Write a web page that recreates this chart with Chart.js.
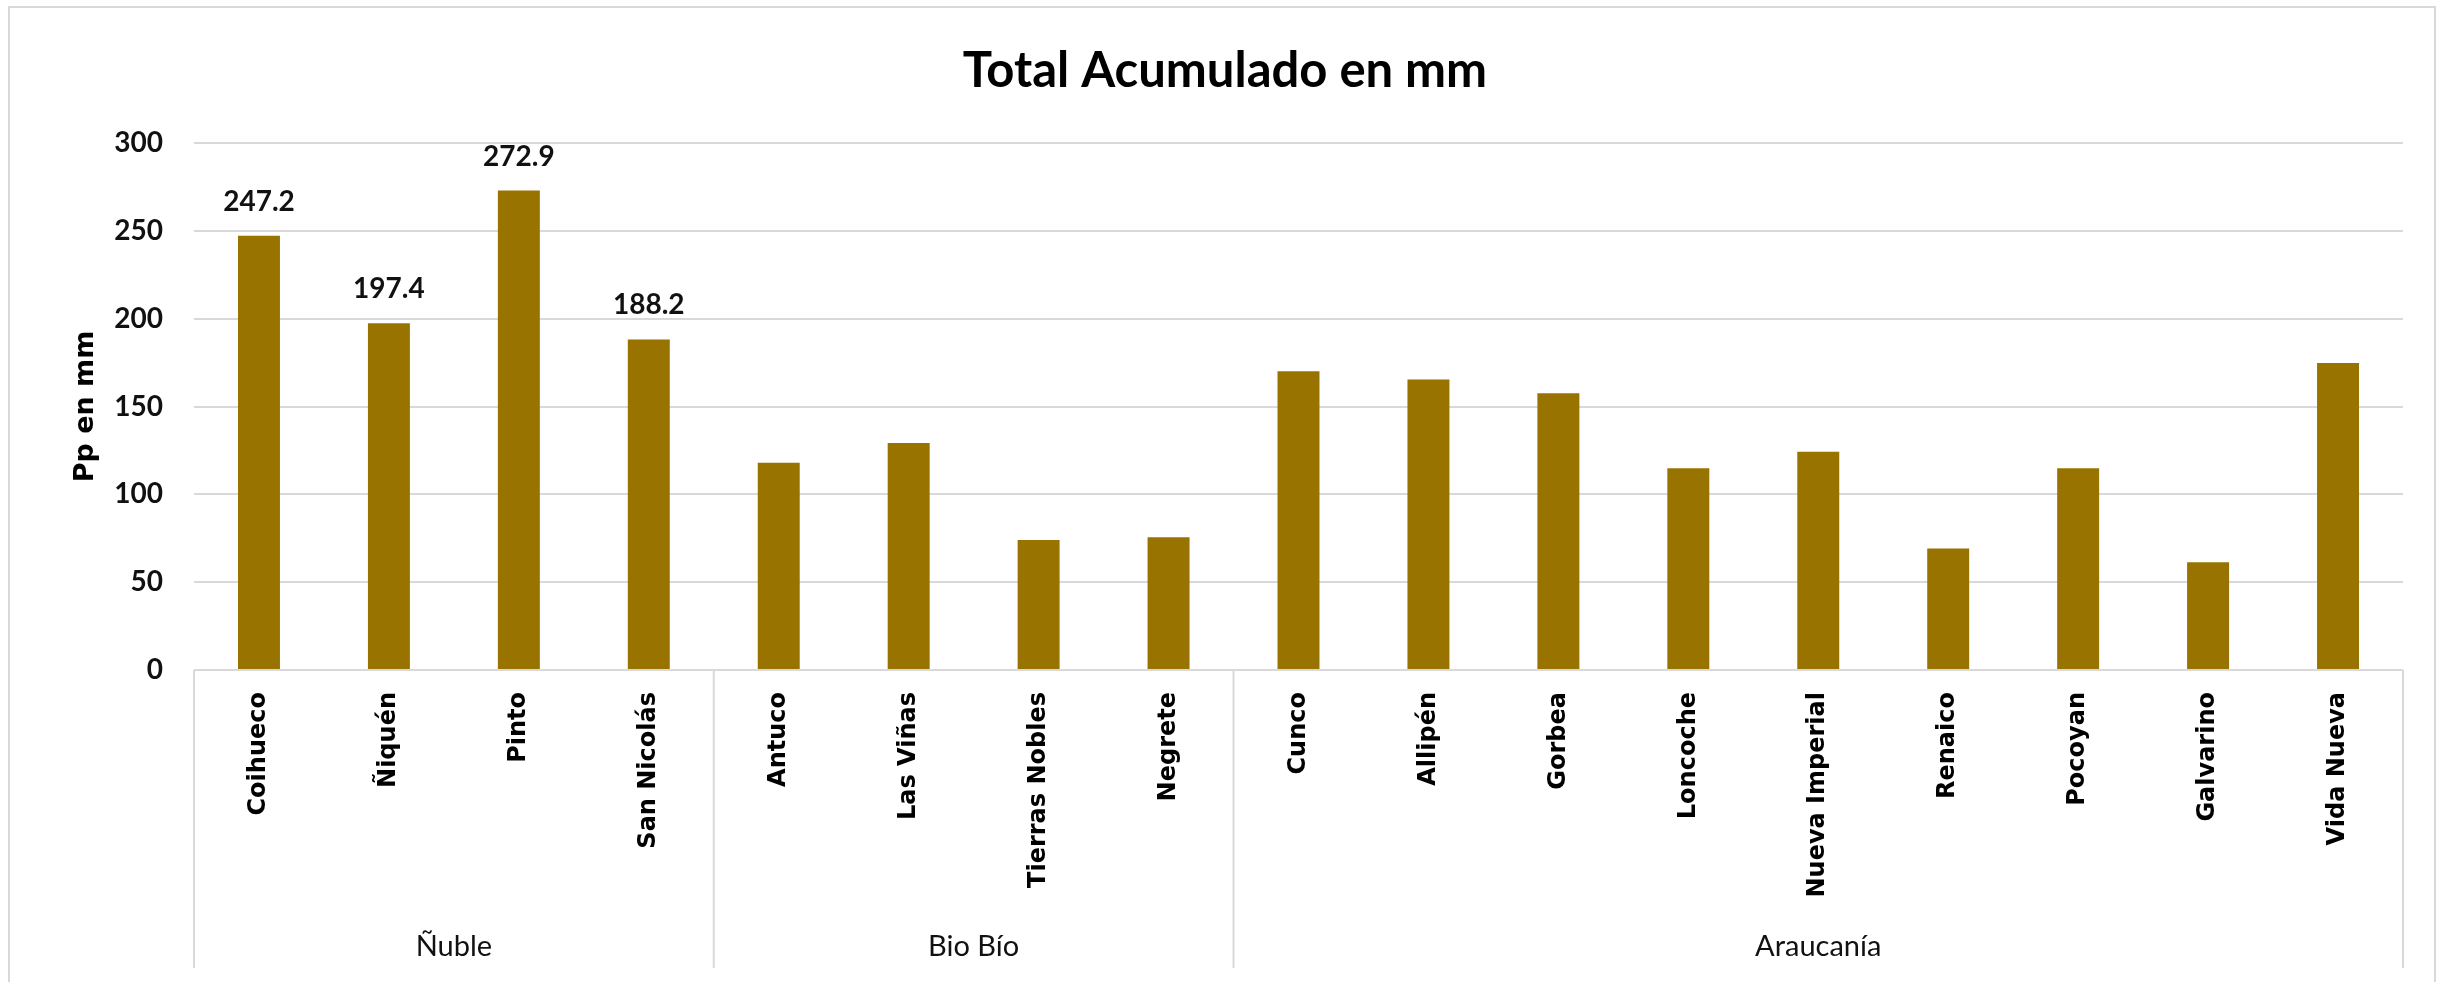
<!DOCTYPE html>
<html>
<head>
<meta charset="utf-8">
<script src="https://cdn.jsdelivr.net/npm/chart.js@4/dist/chart.umd.min.js"></script>
<style>
  html,body{margin:0;padding:0;background:#fff;}
  #wrap{width:2440px;height:982px;position:relative;}
</style>
</head>
<body>
<div id="wrap"><canvas id="pp-chart"></canvas></div>
<script>
// categorías (estaciones) y total acumulado en mm
const estaciones=['Coihueco','Ñiquén','Pinto','San Nicolás','Antuco','Las Viñas','Tierras Nobles','Negrete',
  'Cunco','Allipén','Gorbea','Loncoche','Nueva Imperial','Renaico','Pocoyan','Galvarino','Vida Nueva'];
const totalMm=[247.2,197.4,272.9,188.2,118.0,129.2,74.0,75.5,170.1,165.3,157.6,114.9,124.3,69.2,114.9,61.3,174.7];
// solo estas barras llevan etiqueta de dato
const conEtiqueta=['Coihueco','Ñiquén','Pinto','San Nicolás'];
// regiones y cuántas estaciones tiene cada una
const regiones=['Ñuble','Bio Bío','Araucanía'];
const nPorRegion=[4,4,9];
// eje Y
const yMin=0, yMax=300, yPaso=50;

const COLOR_BAR='#997300';
const GRIS='#d9d9d9';

// borde exterior + fondo
const marco={
  id:'marco',
  beforeDraw(c){
    const x=c.ctx;
    x.save();
    x.fillStyle='#fff'; x.fillRect(0,0,c.width,c.height);
    x.strokeStyle=GRIS; x.lineWidth=2;
    x.strokeRect(9,7,2426,1000);
    x.restore();
  }
};

// etiquetas de datos + separadores y nombres de región
const extras={
  id:'extras',
  afterDatasetsDraw(c){
    const x=c.ctx, sx=c.scales.x, sy=c.scales.y;
    x.save();
    x.fillStyle='#111'; x.font='bold 28px Lato'; x.textAlign='center'; x.textBaseline='alphabetic';
    estaciones.forEach((e,i)=>{
      if(!conEtiqueta.includes(e)) return;
      x.fillText(totalMm[i].toFixed(1),sx.getPixelForValue(i),sy.getPixelForValue(totalMm[i])-25);
    });
    const half=(sx.getPixelForValue(1)-sx.getPixelForValue(0))/2;
    const y0=c.chartArea.bottom, y1=968;
    x.strokeStyle=GRIS; x.lineWidth=2;
    let k=0;
    const bordes=[sx.getPixelForValue(0)-half];
    nPorRegion.forEach(n=>{ k+=n; bordes.push(sx.getPixelForValue(k-1)+half); });
    bordes.forEach(b=>{ x.beginPath(); x.moveTo(b,y0); x.lineTo(b,y1); x.stroke(); });
    x.fillStyle='#111'; x.font='29px Lato'; x.textBaseline='middle';
    regiones.forEach((r,i)=>{ x.fillText(r,(bordes[i]+bordes[i+1])/2,947); });
    x.restore();
  }
};

function build(){
  new Chart(document.getElementById('pp-chart'),{
    type:'bar',
    data:{labels:estaciones,datasets:[{
      data:totalMm, backgroundColor:COLOR_BAR, borderWidth:0,
      categoryPercentage:1, barPercentage:0.323
    }]},
    options:{
      responsive:true, maintainAspectRatio:false, animation:false,
      layout:{padding:{top:0,right:37,bottom:0,left:47}},
      plugins:{
        legend:{display:false}, tooltip:{enabled:false},
        title:{display:true,text:'Total Acumulado en mm',color:'#000',
          font:{family:'Lato',size:49,weight:'bold',lineHeight:1.2},
          padding:{top:41.6,bottom:42.6}}
      },
      scales:{
        x:{
          grid:{display:false,drawTicks:false}, border:{display:false},
          ticks:{color:'#000',font:{family:'DejaVu Sans',size:24,weight:'bold'},
            minRotation:90,maxRotation:90,padding:22,autoSkip:false},
          afterFit(s){ s.height=312; }
        },
        y:{
          min:yMin,max:yMax,
          grid:{color:GRIS,lineWidth:2,drawTicks:false}, border:{display:false},
          ticks:{stepSize:yPaso,color:'#111',font:{family:'Lato',size:28,weight:'bold'},padding:31},
          title:{display:true,text:'Pp en mm',color:'#000',
            font:{family:'DejaVu Sans',size:27,weight:'bold',lineHeight:1.2},
            padding:{top:23,bottom:0}},
          afterFit(s){ s.width=147; }
        }
      }
    },
    plugins:[marco,extras]
  });
}

Promise.all([
  document.fonts.load('bold 49px Lato'),
  document.fonts.load('29px Lato'),
  document.fonts.load('bold 24px "DejaVu Sans"')
]).then(build,build);
</script>
</body>
</html>
